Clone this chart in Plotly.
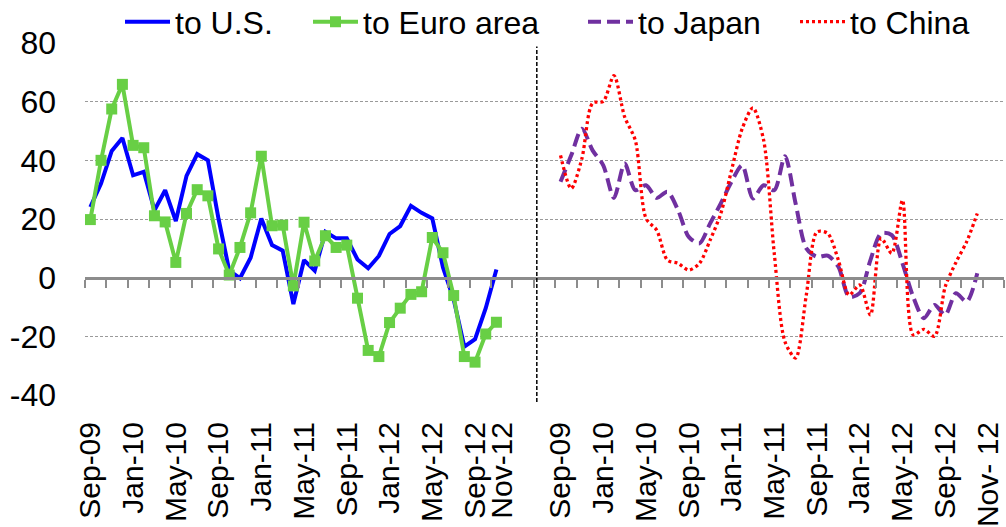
import plotly.graph_objects as go

# Monthly export growth (% y/y), Sep-09 .. Nov-12
us = [24.1, 32.1, 43.2, 47.6, 34.9, 36.1, 23.0, 29.8, 19.3, 34.7,
      42.1, 40.0, 20.0, 2.4, -0.2, 6.8, 20.2, 11.1, 9.2, -9.0,
      6.0, 2.4, 15.6, 13.4, 13.4, 6.2, 3.2, 7.4, 14.9, 17.6,
      24.5, 22.1, 20.2, 3.5, -7.4, -23.5, -21.0, -10.4, 2.8]
euro = [19.8, 40.0, 57.5, 65.9, 45.1, 44.3, 21.1, 19.0, 5.2, 21.9,
        30.0, 27.9, 9.8, 0.9, 10.3, 22.1, 41.4, 17.7, 17.9, -2.8,
        18.9, 5.7, 14.3, 10.3, 11.1, -7.0, -24.8, -26.9, -15.3, -10.4,
        -5.7, -4.8, 13.7, 8.5, -6.1, -26.9, -28.8, -19.2, -15.2]
japan = [32.7, 41.7, 50.8, 43.4, 38.3, 27.2, 38.9, 29.8, 31.5, 27.2,
         29.3, 23.0, 13.9, 11.7, 18.5, 25.3, 32.7, 38.3, 27.0, 31.5,
         29.8, 41.4, 25.3, 10.0, 7.1, 7.5, 3.7, -6.5, -5.3, 6.0,
         15.1, 14.5, 4.9, -6.5, -13.8, -9.3, -12.7, -5.3, -8.2, 1.5]
china = [41.7, 30.4, 40.6, 59.5, 60.1, 68.9, 54.8, 46.8, 20.2, 16.2,
         6.0, 4.9, 2.6, 4.9, 12.8, 21.9, 36.6, 50.8, 57.9, 47.0,
         8.3, -21.8, -27.4, -5.9, 15.6, 15.1, 6.0, -5.9, -2.5, -12.7,
         13.4, 8.3, 26.4, -19.5, -17.6, -20.0, -3.1, 5.2, 12.2, 21.9]

# Tick labels and their month offsets within each panel
left_ticks = ["Sep-09", "Jan-10", "May-10", "Sep-10", "Jan-11", "May-11",
              "Sep-11", "Jan-12", "May-12", "Sep-12", "Nov-12"]
left_tick_pos = [0, 4, 8, 12, 16, 20, 24, 28, 32, 36, 38.5]
right_ticks = ["Sep-09", "Jan-10", "May-10", "Sep-10", "Jan-11", "May-11",
               "Sep-11", "Jan-12", "May-12", "Sep-12", "Nov- 12"]
right_tick_pos = [0, 4, 8, 12, 16, 20, 24, 28, 32, 36, 40]

y_ticks = [-40, -20, 0, 20, 40, 60, 80]
y_tick_labels = ["-40", "-20", "0", "20", "40", "60", "80"]

RIGHT_START = 44          # category slot where the second panel begins
N_SLOTS = 86              # total category slots on the shared axis
DIVIDER = 41.78           # position of the panel separator

x_left = list(range(len(us)))
x_right = [RIGHT_START + i for i in range(len(japan))]

FONT = "Liberation Sans, Arial, sans-serif"
GREEN = "#68CF45"

fig = go.Figure()
fig.add_trace(go.Scatter(x=x_left, y=us, mode="lines", name="to U.S.",
                         line=dict(color="#0000FF", width=4), legend="legend"))
fig.add_trace(go.Scatter(x=x_left, y=euro, mode="lines+markers", name="to Euro area",
                         line=dict(color=GREEN, width=4),
                         marker=dict(symbol="square", size=11, color=GREEN),
                         legend="legend2"))
fig.add_trace(go.Scatter(x=x_right, y=japan, mode="lines", name="to Japan",
                         line=dict(color="#7030A0", width=4, dash="13px,6px",
                                   shape="spline", smoothing=0.8),
                         legend="legend3"))
fig.add_trace(go.Scatter(x=x_right, y=china, mode="lines", name="to China",
                         line=dict(color="#FF0000", width=3.3, dash="3px,3px",
                                   shape="spline", smoothing=0.8),
                         legend="legend4"))

tickvals = left_tick_pos + [RIGHT_START + p for p in right_tick_pos]
ticktext = left_ticks + right_ticks

fig.update_layout(
    width=1006, height=527,
    margin=dict(l=85, r=2, t=43, b=132, autoexpand=False),
    paper_bgcolor="white", plot_bgcolor="white",
    font=dict(family=FONT, size=30, color="black"),
    xaxis=dict(range=[-0.5, N_SLOTS - 0.5], tickmode="array",
               tickvals=tickvals, ticktext=ticktext, tickangle=-90,
               ticks="", ticklabelstandoff=20, showgrid=False,
               zeroline=False, showline=False, automargin=False,
               tickfont=dict(size=30, family=FONT)),
    xaxis2=dict(range=[-0.5, N_SLOTS - 0.5], overlaying="x", anchor="free",
                position=1/3, side="bottom", tickmode="linear",
                tick0=-0.5, dtick=2, ticks="outside", ticklen=8,
                tickwidth=1.5, tickcolor="#8C8C8C", showticklabels=False,
                showline=True, linecolor="#8C8C8C", linewidth=3,
                showgrid=False, zeroline=False),
    yaxis=dict(range=[-40, 80], tickmode="array", tickvals=y_ticks,
               ticktext=y_tick_labels, showgrid=True,
               gridcolor="#9A9A9A", gridwidth=1, griddash="3px,2px",
               zeroline=False, showline=False, ticks="", automargin=False,
               ticklabelstandoff=28, tickfont=dict(size=32, family=FONT)),
    showlegend=True,
)

legend_common = dict(orientation="h", yanchor="middle", y=1.06, xanchor="left",
                     bgcolor="rgba(0,0,0,0)", font=dict(size=32, family=FONT),
                     itemwidth=45, tracegroupgap=0)
fig.update_layout(
    legend=dict(x=(120 - 85) / 919, **legend_common),
    legend2=dict(x=(308 - 85) / 919, **legend_common),
    legend3=dict(x=(583 - 85) / 919, **legend_common),
    legend4=dict(x=(795 - 85) / 919, **legend_common),
)

# Empty trace that activates the overlaid tick axis on the zero line
fig.add_trace(go.Scatter(x=[None], y=[None], xaxis="x2", showlegend=False,
                         hoverinfo="skip"))

fig.add_shape(type="line", xref="x", yref="paper", x0=DIVIDER, x1=DIVIDER,
              y0=-0.02, y1=0.99, line=dict(color="black", width=1.5, dash="4px,2px"))

fig.write_html("out.html")
